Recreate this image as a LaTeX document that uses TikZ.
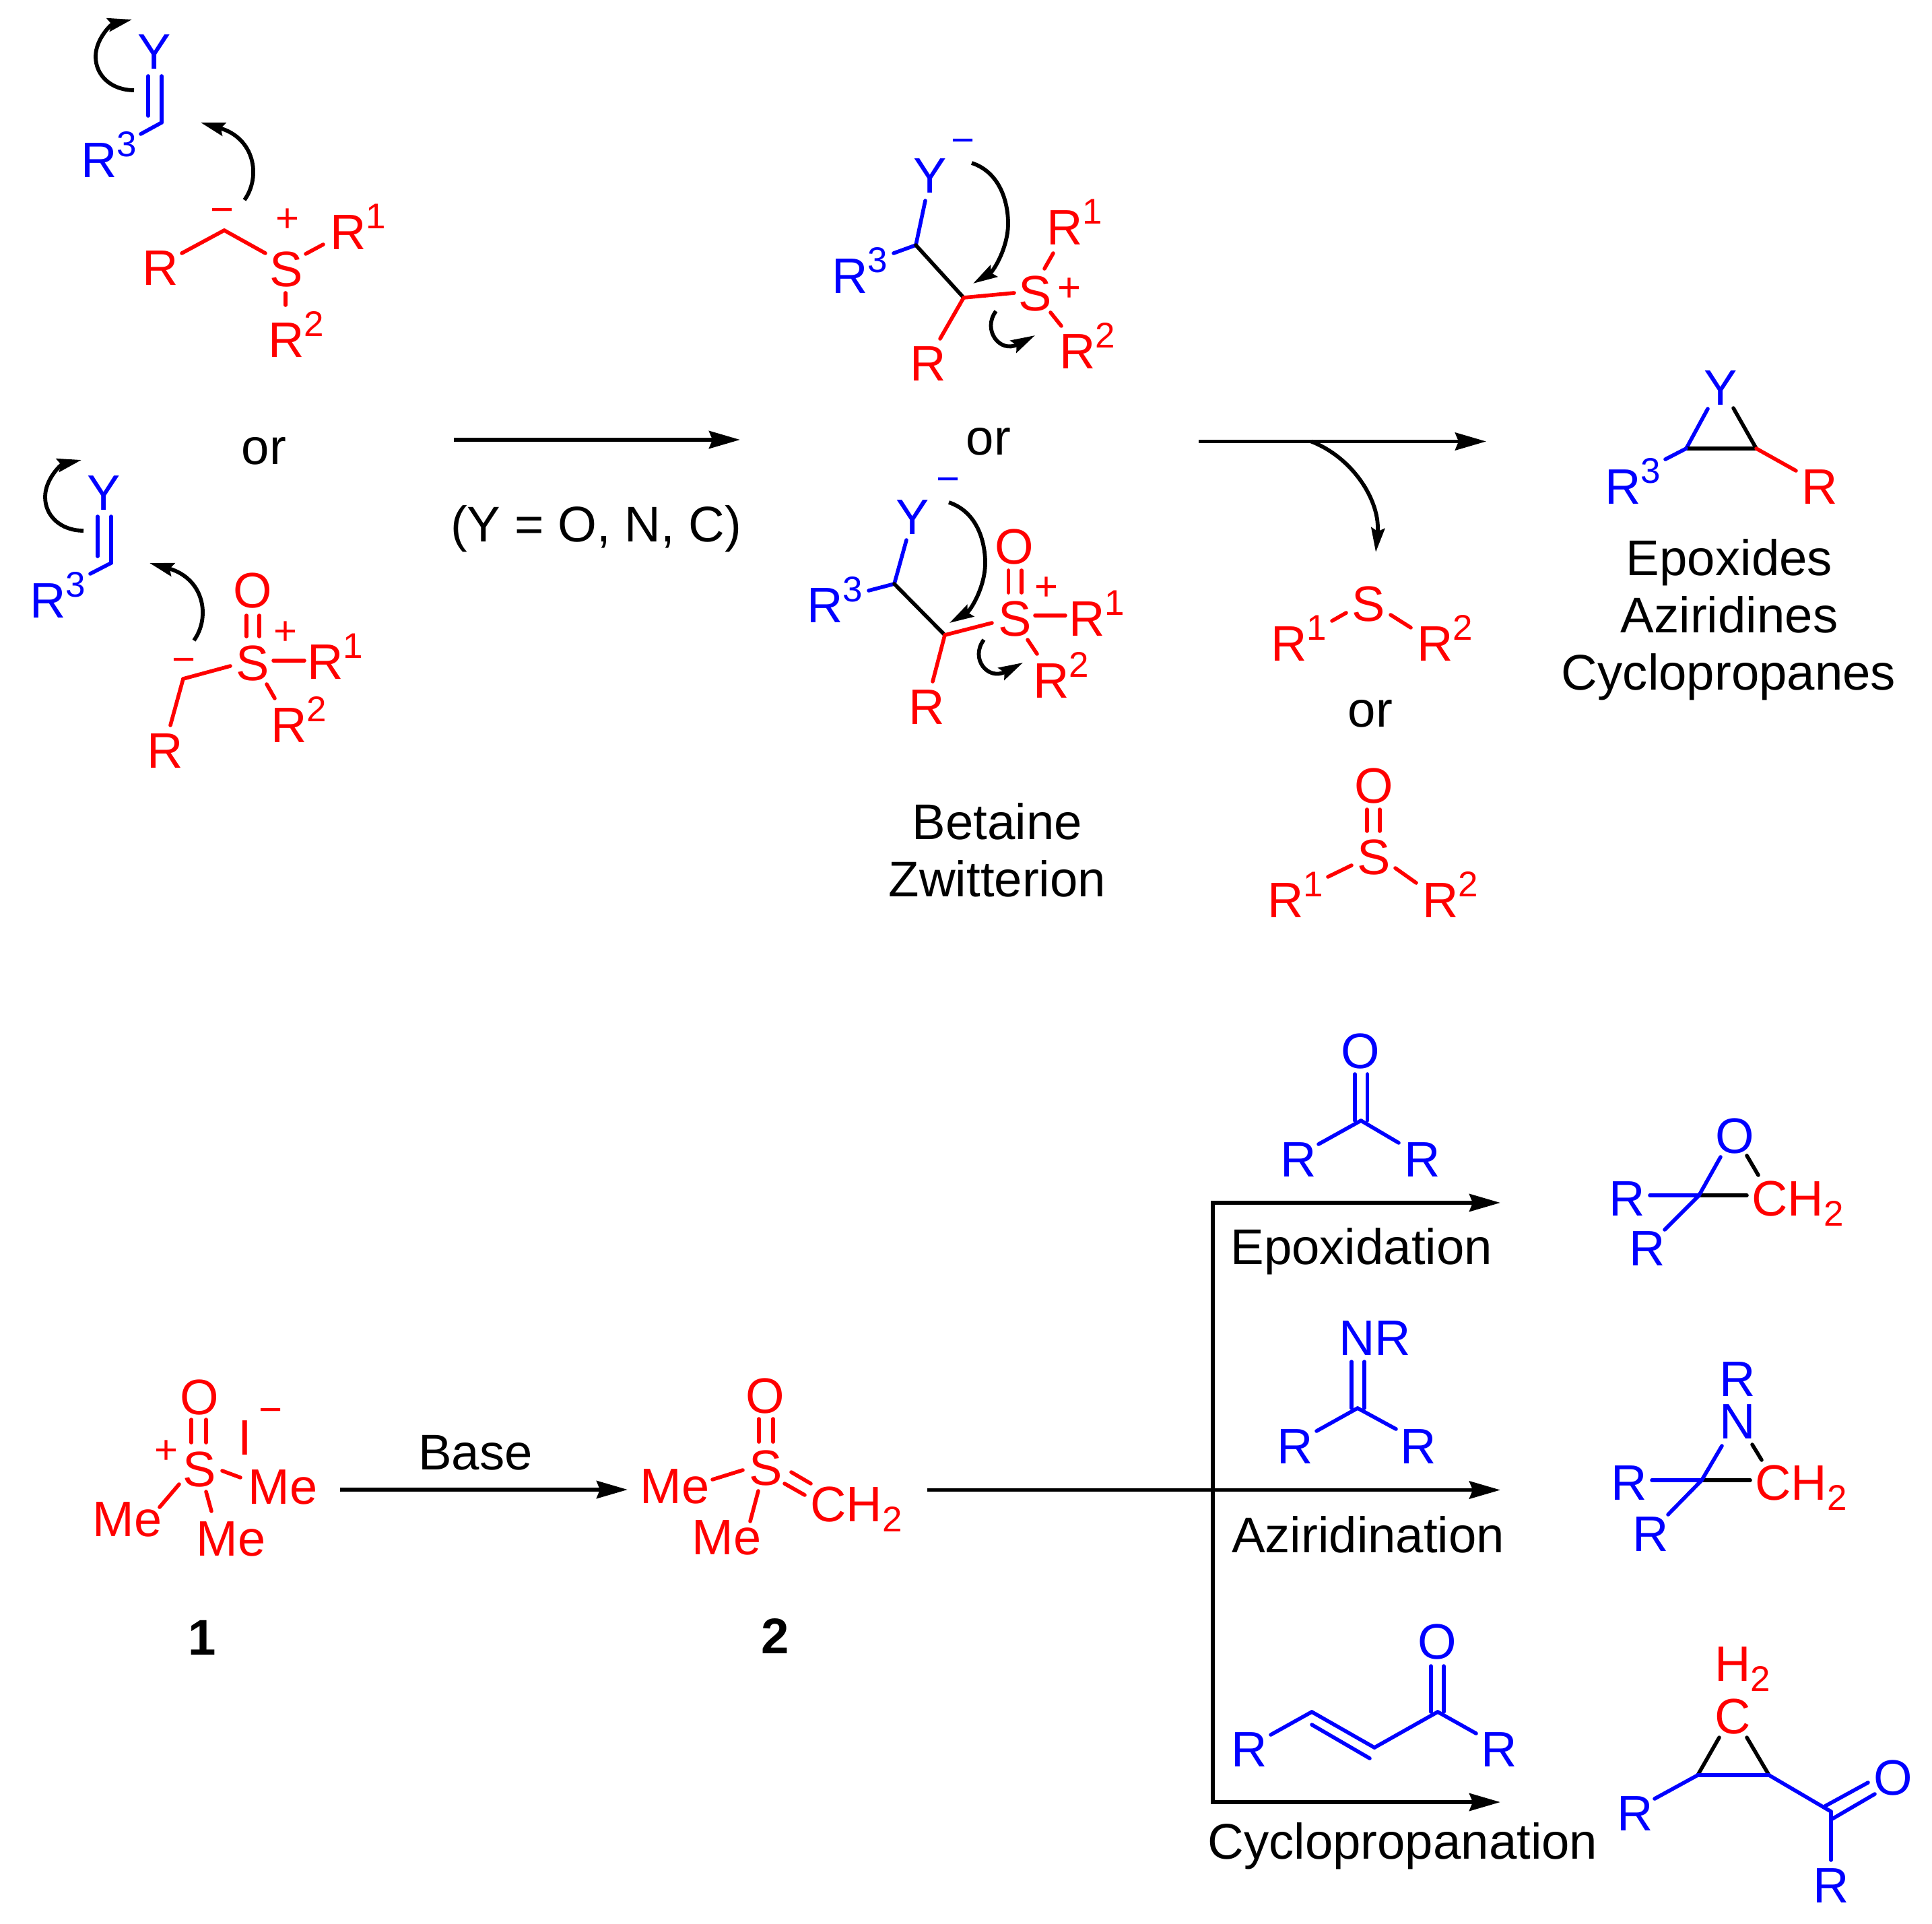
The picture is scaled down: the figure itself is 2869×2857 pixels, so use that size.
\documentclass[tikz,border=0pt]{standalone}
\usepackage{fontspec}
\setmainfont{Liberation Sans}
\usetikzlibrary{arrows.meta}
\newcommand\Sp[1]{\raisebox{15.5pt}{\fontsize{26.5}{26.5}\selectfont #1}}
\newcommand\Sb[1]{\raisebox{-7.5pt}{\fontsize{26.5}{26.5}\selectfont #1}}
% atom, x = left ink edge of its first letter, y = baseline
\newcommand\atm[5]{\node[#2,anchor=base west,xshift=-2.8pt] (#1) at (#3,#4) {#5};}
% atom or label, x = centre, y = baseline
\newcommand\catm[5]{\node[#2,anchor=base] (#1) at (#3,#4) {#5};}
% charge, x,y = centre of the sign
\newcommand\chg[5]{\node[#2,anchor=base,yshift=-10pt,font=\fontsize{30}{30}\selectfont] (#1) at (#3,#4) {#5};}
% bond between two named ends
\newcommand\bnd[4]{\coordinate (#1a) at (#3); \coordinate (#1b) at (#4); \draw[#2] (#1a) -- (#1b);}
\definecolor{chemred}{RGB}{255,0,0}
\definecolor{chemblue}{RGB}{0,0,255}
\tikzset{
  lab/.style={inner sep=0pt,outer sep=0pt,font=\fontsize{37}{37}\selectfont},
  ra/.style={lab,text=chemred},
  ba/.style={lab,text=chemblue},
  ka/.style={lab,text=black,font=\fontsize{37.2}{37.2}\selectfont},
  na/.style={lab,text=black,font=\fontsize{37.2}{37.2}\selectfont\bfseries},
  bd/.style={line width=2.8pt,line cap=round},
  rb/.style={bd,draw=chemred},
  bb/.style={bd,draw=chemblue},
  kb/.style={bd,draw=black},
  rxn/.style={line width=2.9pt,draw=black,-{Stealth[length=23pt,width=13pt,inset=2.5pt]}},
  rail/.style={line width=2.9pt,draw=black},
  curly/.style={line width=2.9pt,draw=black,-{Stealth[length=18pt,width=10pt,inset=2.5pt]}},
}
\begin{document}
\begin{tikzpicture}[x=0.5pt,y=-0.5pt]
\useasboundingbox (0,0) rectangle (2869,2857);

% --- top-left ylide / sulfonium
\catm{y1}{ba}{229}{103}{Y}
\bnd{y1d}{bb}{220,113}{220,172}
\bnd{y1e}{bb}{240,113}{240,182}
\bnd{y1r}{bb}{240,182}{209,199}
\atm{r1c}{ba}{126}{264}{R\Sp{3}}
\coordinate (c1a) at (199,134); \coordinate (c1m) at (142,84); \coordinate (c1b) at (196,29);
\draw[curly] (c1a) .. controls (165,134) and (142,112) .. (c1m) .. controls (142,58) and (165,36) .. (c1b);
\coordinate (c2a) at (363,297); \coordinate (c2b) at (298,182);
\draw[curly] (c2a) .. controls (388,262) and (378,205) .. (c2b);
\chg{m1}{ra}{330}{312}{−}
\chg{p1}{ra}{427}{325}{+}
\atm{r1r}{ra}{217}{423}{R}
\bnd{b1a}{rb}{270,376}{333,342}
\bnd{b1b}{rb}{333,342}{394,376}
\catm{s1}{ra}{425}{425}{S}
\bnd{b1c}{rb}{454,377}{480,363}
\atm{r11}{ra}{496}{371}{R\Sp{1}}
\bnd{b1d}{rb}{424,435}{424,453}
\atm{r12}{ra}{404}{530}{R\Sp{2}}
\catm{or1}{ka}{392}{689}{or}

% --- lower-left ylide / sulfoxonium
\catm{y2}{ba}{154}{757}{Y}
\bnd{y2d}{bb}{145,767}{145,826}
\bnd{y2e}{bb}{165,767}{165,836}
\bnd{y2r}{bb}{165,836}{134,852}
\atm{r2c}{ba}{50}{917}{R\Sp{3}}
\coordinate (c3a) at (124,788); \coordinate (c3m) at (67,738); \coordinate (c3b) at (121,683);
\draw[curly] (c3a) .. controls (90,788) and (67,766) .. (c3m) .. controls (67,712) and (90,690) .. (c3b);
\coordinate (c4a) at (288,951); \coordinate (c4b) at (222,836);
\draw[curly] (c4a) .. controls (313,916) and (303,859) .. (c4b);
\chg{m2}{ra}{273}{979}{−}
\bnd{b2a}{rb}{272,1008}{342,989}
\bnd{b2b}{rb}{272,1008}{253,1077}
\atm{r2r}{ra}{224}{1140}{R}
\catm{s2}{ra}{375}{1010}{S}
\catm{o2}{ra}{375}{902}{O}
\bnd{b2c}{rb}{366,914}{366,945}
\bnd{b2d}{rb}{385,914}{385,945}
\chg{p2}{ra}{424}{937}{+}
\bnd{b2e}{rb}{406,981}{452,981}
\atm{r21}{ra}{462}{1008}{R\Sp{1}}
\bnd{b2f}{rb}{396,1016}{408,1037}
\atm{r22}{ra}{408}{1102}{R\Sp{2}}

% --- first reaction arrow
\coordinate (a1a) at (674,653); \coordinate (a1b) at (1099,653);
\draw[rxn] (a1a) -- (a1b);
\catm{ycond}{ka}{885}{804}{(Y = O, N, C)}

% --- betaine, sulfonium
\chg{m3}{ba}{1430}{209}{−}
\catm{y3}{ba}{1381}{287}{Y}
\bnd{b3a}{bb}{1374,298}{1360,364}
\bnd{b3b}{bb}{1360,364}{1327,376}
\atm{r3c}{ba}{1241}{436}{R\Sp{3}}
\bnd{b3c}{kb}{1360,364}{1431,442}
\bnd{b3d}{rb}{1431,442}{1506,435}
\bnd{b3e}{rb}{1431,442}{1396,503}
\atm{r3r}{ra}{1357}{565}{R}
\catm{s3}{ra}{1537}{461}{S}
\bnd{b3f}{rb}{1551,399}{1564,376}
\atm{r31}{ra}{1560}{364}{R\Sp{1}}
\chg{p3}{ra}{1588}{427}{+}
\bnd{b3g}{rb}{1560,464}{1576,484}
\atm{r32}{ra}{1579}{547}{R\Sp{2}}
\coordinate (c5a) at (1443,242); \coordinate (c5m) at (1497,332); \coordinate (c5b) at (1445,421);
\draw[curly] (c5a) .. controls (1485,256) and (1497,300) .. (c5m) .. controls (1497,368) and (1475,403) .. (c5b);
\coordinate (c6a) at (1479,462); \coordinate (c6b) at (1537,498);
\draw[curly] (c6a) .. controls (1458,490) and (1485,525) .. (c6b);
\catm{or2}{ka}{1468}{675}{or}

% --- betaine, sulfoxonium
\chg{m4}{ba}{1408}{711}{−}
\catm{y4}{ba}{1355}{793}{Y}
\bnd{b4a}{bb}{1346,802}{1328,867}
\bnd{b4b}{bb}{1328,867}{1290,877}
\atm{r4c}{ba}{1204}{924}{R\Sp{3}}
\bnd{b4c}{kb}{1328,867}{1403,943}
\bnd{b4d}{rb}{1403,943}{1473,925}
\bnd{b4e}{rb}{1403,943}{1385,1012}
\atm{r4r}{ra}{1355}{1075}{R}
\catm{s4}{ra}{1507}{944}{S}
\catm{o4}{ra}{1506}{837}{O}
\bnd{b4f}{rb}{1497.5,847}{1497.5,880}
\bnd{b4g}{rb}{1517,847}{1517,880}
\chg{p4}{ra}{1554}{871}{+}
\bnd{b4h}{rb}{1537,914}{1582,914}
\atm{r41}{ra}{1593}{944}{R\Sp{1}}
\bnd{b4i}{rb}{1526,950}{1540,971}
\atm{r42}{ra}{1540}{1036}{R\Sp{2}}
\coordinate (c7a) at (1409,746); \coordinate (c7m) at (1463,836); \coordinate (c7b) at (1410,925);
\draw[curly] (c7a) .. controls (1451,760) and (1463,804) .. (c7m) .. controls (1463,872) and (1441,907) .. (c7b);
\coordinate (c8a) at (1461,950); \coordinate (c8b) at (1519,984);
\draw[curly] (c8a) .. controls (1440,978) and (1467,1011) .. (c8b);
\catm{bet}{ka}{1481}{1246}{Betaine}
\catm{zwi}{ka}{1481}{1331}{Zwitterion}

% --- second reaction arrow with leaving group branch
\coordinate (a2a) at (1780,655.5); \coordinate (a2b) at (2207,655.5); \coordinate (a2c) at (1947,655.5); \coordinate (a2d) at (2043,820);
\draw[rxn] (a2a) -- (a2b);
\draw[curly] (a2c) .. controls (2010,680) and (2050,745) .. (a2d);

% --- sulfide / sulfoxide
\catm{s5}{ra}{2032}{922}{S}
\atm{r51}{ra}{1893}{981}{R\Sp{1}}
\atm{r52}{ra}{2110}{981}{R\Sp{2}}
\bnd{b5a}{rb}{1978,922}{1999,910}
\bnd{b5b}{rb}{2065,913}{2095,932}
\catm{or3}{ka}{2035}{1079}{or}
\catm{o6}{ra}{2040}{1192}{O}
\bnd{b6a}{rb}{2030,1202}{2030,1234}
\bnd{b6b}{rb}{2049,1202}{2049,1234}
\catm{s6}{ra}{2040}{1298}{S}
\bnd{b6c}{rb}{1972,1302}{2007,1285}
\bnd{b6d}{rb}{2072,1289}{2103,1311}
\atm{r61}{ra}{1888}{1362}{R\Sp{1}}
\atm{r62}{ra}{2118}{1362}{R\Sp{2}}

% --- generic three-ring product
\catm{y7}{ba}{2555}{601.5}{Y}
\bnd{b7a}{bb}{2536,607}{2504,666}
\bnd{b7b}{kb}{2574,606}{2608,666}
\bnd{b7c}{kb}{2504,666}{2608,666}
\bnd{b7d}{bb}{2504,666}{2473,682}
\bnd{b7e}{rb}{2608,666}{2667,699}
\atm{r7c}{ba}{2389}{748}{R\Sp{3}}
\atm{r7r}{ra}{2681}{748}{R}
\catm{t1}{ka}{2568}{854}{Epoxides}
\catm{t2}{ka}{2568}{939}{Aziridines}
\catm{t3}{ka}{2567}{1024}{Cyclopropanes}

% --- reagent 1
\catm{o8}{ra}{296}{2100}{O}
\bnd{b8a}{rb}{284,2108}{284,2142}
\bnd{b8b}{rb}{306,2108}{306,2142}
\chg{p8}{ra}{247}{2153}{+}
\catm{s8}{ra}{296}{2207}{S}
\catm{i8}{ra}{364}{2160}{I}
\chg{m8}{ra}{402}{2093}{−}
\bnd{b8c}{rb}{330,2184}{357,2194}
\atm{me1}{ra}{374}{2233}{Me}
\bnd{b8d}{rb}{266,2204}{237,2238}
\atm{me2}{ra}{143}{2281}{Me}
\bnd{b8e}{rb}{306,2215}{314,2244}
\atm{me3}{ra}{297}{2310}{Me}
\catm{n1}{na}{300}{2457}{1}

% --- Base arrow
\coordinate (a3a) at (505,2212); \coordinate (a3b) at (932,2212);
\draw[rxn] (a3a) -- (a3b);
\catm{base}{ka}{706}{2182}{Base}

% --- ylide 2
\catm{o9}{ra}{1136}{2098}{O}
\bnd{b9a}{rb}{1127,2107}{1127,2141}
\bnd{b9b}{rb}{1148,2107}{1148,2141}
\catm{s9}{ra}{1137}{2205}{S}
\bnd{b9c}{rb}{1103,2183}{1058,2197}
\atm{me4}{ra}{956}{2232}{Me}
\bnd{b9d}{rb}{1126,2214}{1114,2259}
\atm{me5}{ra}{1033}{2308}{Me}
\bnd{b9e}{rb}{1175,2186}{1204,2203}
\bnd{b9f}{rb}{1165,2203}{1195,2220}
\atm{ch9}{ra}{1209}{2259}{CH\Sb{2}}
\catm{n2}{na}{1151}{2455}{2}

% --- branching arrows
\coordinate (a4a) at (1377,2212.5); \coordinate (a4b) at (2228,2212.5);
\draw[rxn] (a4a) -- (a4b);
\coordinate (a5t) at (1801,1786); \coordinate (a5m) at (2228,1786);
\coordinate (a5u) at (1801,2676); \coordinate (a5n) at (2228,2676);
\draw[rail,line cap=butt] ([yshift=1.45pt]a5t) -- ([yshift=-1.45pt]a5u);
\draw[rxn] ([xshift=-1.45pt]a5t) -- (a5m);
\draw[rxn] ([xshift=-1.45pt]a5u) -- (a5n);
\atm{t4}{ka}{1833}{1877}{Epoxidation}
\node[ka,anchor=base west] (t5) at (1829,2305) {Aziridination};
\atm{t6}{ka}{1799}{2760}{Cyclopropanation}

% --- ketone
\catm{o10}{ba}{2020}{1586}{O}
\bnd{b10a}{bb}{2012,1595}{2012,1664}
\bnd{b10b}{bb}{2030.5,1595}{2030.5,1664}
\bnd{b10c}{bb}{2021,1664}{1958,1699}
\bnd{b10d}{bb}{2021,1664}{2077,1697}
\atm{r10a}{ba}{1907}{1747}{R}
\atm{r10b}{ba}{2091}{1747}{R}

% --- imine
\atm{n11}{ba}{1994}{2012}{NR}
\bnd{b11a}{bb}{2007,2022}{2007,2091}
\bnd{b11b}{bb}{2026,2022}{2026,2091}
\bnd{b11c}{bb}{2016,2091}{1955,2125}
\bnd{b11d}{bb}{2016,2091}{2073,2122}
\atm{r11a}{ba}{1902}{2173}{R}
\atm{r11b}{ba}{2085}{2173}{R}

% --- enone
\catm{o12}{ba}{2134}{2463}{O}
\bnd{b12a}{bb}{2125,2474}{2125,2542}
\bnd{b12b}{bb}{2144,2474}{2144,2542}
\bnd{b12c}{bb}{2135,2542}{2192,2574}
\bnd{b12d}{bb}{2135,2542}{2041,2595}
\bnd{b12e}{bb}{2041,2595}{1948,2542}
\bnd{b12f}{bb}{1948,2561}{2034,2611}
\bnd{b12g}{bb}{1948,2542}{1887,2576}
\atm{r12a}{ba}{1834}{2623}{R}
\atm{r12b}{ba}{2205}{2623}{R}

% --- epoxide product
\catm{o13}{ba}{2576}{1712}{O}
\atm{r13a}{ba}{2395}{1805}{R}
\atm{r13b}{ba}{2425}{1879}{R}
\bnd{b13a}{bb}{2450,1775}{2523,1775}
\bnd{b13b}{kb}{2523,1775}{2594,1775}
\bnd{b13c}{bb}{2523,1775}{2555,1718}
\bnd{b13d}{bb}{2523,1775}{2472,1826}
\bnd{b13e}{kb}{2594,1716}{2611,1745}
\atm{ch13}{ra}{2607}{1805}{CH\Sb{2}}

% --- aziridine product
\atm{r14t}{ba}{2559}{2073}{R}
\atm{n14}{ba}{2559}{2136}{N}
\atm{r14a}{ba}{2398}{2227}{R}
\atm{r14b}{ba}{2430}{2303}{R}
\bnd{b14a}{bb}{2453,2198}{2527,2198}
\bnd{b14b}{kb}{2527,2198}{2599,2198}
\bnd{b14c}{bb}{2527,2198}{2557,2147}
\bnd{b14d}{bb}{2527,2198}{2477,2249}
\bnd{b14e}{kb}{2602,2145}{2616,2168}
\atm{ch14}{ra}{2612}{2227}{CH\Sb{2}}

% --- cyclopropane product
\atm{h15}{ra}{2552}{2496}{H\Sb{2}}
\catm{c15}{ra}{2573}{2574}{C}
\bnd{b15a}{kb}{2553,2580}{2521,2636}
\bnd{b15b}{kb}{2594,2580}{2627,2636}
\bnd{b15c}{bb}{2521,2636}{2627,2636}
\bnd{b15d}{bb}{2521,2636}{2457,2671}
\atm{r15a}{ba}{2407}{2718}{R}
\bnd{b15e}{bb}{2627,2636}{2719,2690}
\bnd{b15f}{bb}{2710,2682}{2774,2647}
\bnd{b15g}{bb}{2719,2702}{2784,2664}
\catm{o15}{ba}{2811}{2665}{O}
\bnd{b15h}{bb}{2719,2690}{2719,2762}
\atm{r15b}{ba}{2698}{2825}{R}
\end{tikzpicture}
\end{document}
